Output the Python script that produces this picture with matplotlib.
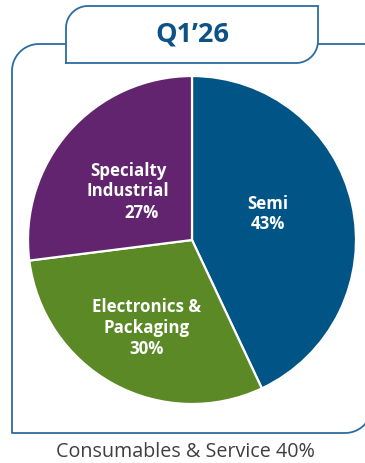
import numpy as np
import matplotlib
matplotlib.use("Agg")
import matplotlib.pyplot as plt

# ---- data ----
categories = ["Semi", "Electronics &\nPackaging", "Specialty\nIndustrial"]
shares = [43, 30, 27]
colors = ["#005486", "#5A8926", "#62246E"]
title = "Q1\u201926"
caption = "Consumables & Service 40%"

W, H = 365, 463
fig = plt.figure(figsize=(W / 100, H / 100), dpi=100)
ax = fig.add_axes([0, 0, 1, 1])

def Y(p):
    return H - p

cx, cy, R = 192, Y(240), 164
wedges, _ = ax.pie(shares, colors=colors, startangle=90, counterclock=False,
                   center=(cx, cy), radius=R,
                   wedgeprops=dict(edgecolor="white", linewidth=1.6))

frame_col = "#2B6CA3"

def arc(xc, yc, r, a0, a1, n=30):
    t = np.radians(np.linspace(a0, a1, n))
    return list(xc + r * np.cos(t)), list(yc + r * np.sin(t))

# outer frame
r = 27
xs, ys = [66, 12 + r], [Y(44), Y(44)]
ax_, ay_ = arc(12 + r, Y(44 + r), r, 90, 180)
xs += ax_; ys += ay_
xs += [12, 12, 372 - r]; ys += [Y(44 + r), Y(433), Y(433)]
ax_, ay_ = arc(372 - r, Y(433 - r), r, 270, 360)
xs += ax_; ys += ay_
ax.plot(xs, ys, color=frame_col, lw=1.3, solid_capstyle="butt")
ax.plot([318, 380], [Y(44), Y(44)], color=frame_col, lw=1.3)

# tab
rt = 22
xs, ys = [66, 66], [Y(63), Y(6 + rt)]
ax_, ay_ = arc(66 + rt, Y(6 + rt), rt, 180, 90)
xs += ax_; ys += ay_
xs += [318, 318]; ys += [Y(6), Y(63 - rt)]
ax_, ay_ = arc(318 - rt, Y(63 - rt), rt, 0, -90)
xs += ax_; ys += ay_
xs += [66]; ys += [Y(63)]
ax.plot(xs, ys, color=frame_col, lw=1.3, solid_joinstyle="miter")

fam = ["Open Sans", "DejaVu Sans"]
ax.text(192, Y(35), title, ha="center", va="center", fontsize=19.5,
        fontweight="bold", color="#0D5286", family=fam)

lab_kw = dict(ha="center", va="center", color="white", fontweight="bold",
              fontsize=12.2, family=fam, linespacing=1.2)
ax.text(268, Y(214), f"{categories[0]}\n{shares[0]}%", **lab_kw)
ax.text(147, Y(328), f"{categories[1]}\n{shares[1]}%", **lab_kw)
ax.text(128, Y(181), categories[2], **lab_kw)
ax.text(142, Y(213), f"{shares[2]}%", **lab_kw)

ax.text(185, Y(452), caption, ha="center", va="center", fontsize=14.2,
        color="#3F3F3F", family=fam)

ax.set_xlim(0, W)
ax.set_ylim(0, H)
ax.set_aspect("equal")
ax.axis("off")
fig.savefig("out.png", dpi=100)
